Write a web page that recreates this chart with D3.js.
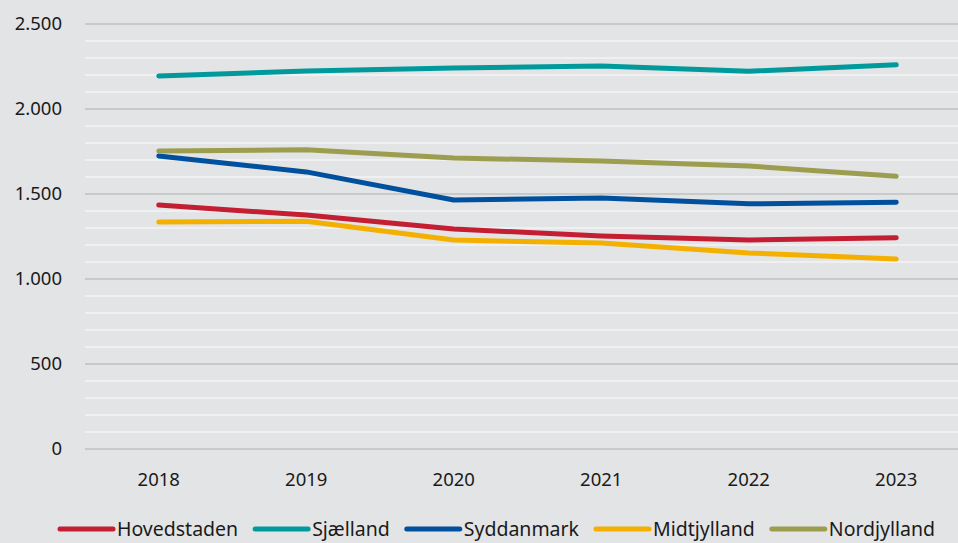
<!DOCTYPE html>
<html>
<head>
<meta charset="utf-8">
<script src="https://cdn.jsdelivr.net/npm/d3@7"></script>
<style>
  html, body { margin: 0; padding: 0; background: #e3e4e6; }
  svg { display: block; font-family: "Noto Sans", "Open Sans", sans-serif; }
</style>
</head>
<body>
<svg id="chart" width="958" height="543"></svg>
<script>
const years = ["2018", "2019", "2020", "2021", "2022", "2023"];
const hovedstaden = [1435, 1376, 1294, 1253, 1229, 1243];
const sjaelland = [2194, 2224, 2241, 2253, 2222, 2260];
const syddanmark = [1724, 1630, 1465, 1476, 1442, 1451];
const midtjylland = [1335, 1340, 1229, 1212, 1153, 1118];
const nordjylland = [1753, 1760, 1712, 1694, 1665, 1604];
const yTicks = [0, 500, 1000, 1500, 2000, 2500];

const series = [
  { name: "Hovedstaden", values: hovedstaden, color: "#c41e32" },
  { name: "Sjælland", values: sjaelland, color: "#009a9c" },
  { name: "Syddanmark", values: syddanmark, color: "#00509e" },
  { name: "Midtjylland", values: midtjylland, color: "#f4b000" },
  { name: "Nordjylland", values: nordjylland, color: "#9c9d4f" }
];

const margin = { top: 24, left: 85, bottom: 94 };
const width = 885;
const height = 543 - margin.top - margin.bottom;

const svg = d3.select("#chart");
const g = svg.append("g").attr("transform", `translate(${margin.left}, ${margin.top})`);

const x = d3.scaleBand().domain(years).range([0, width]);
const y = d3.scaleLinear().domain([0, 2500]).range([height, 0]);

// minor grid (white) then major grid (grey)
g.append("g")
  .selectAll("line")
  .data(d3.range(100, 2500, 100).filter(v => v % 500 !== 0))
  .join("line")
  .attr("x1", 0).attr("x2", width)
  .attr("y1", d => y(d)).attr("y2", d => y(d))
  .attr("stroke", "#f4f5f6")
  .attr("stroke-width", 1.5);

g.append("g")
  .selectAll("line")
  .data(yTicks)
  .join("line")
  .attr("x1", 0).attr("x2", width)
  .attr("y1", d => y(d)).attr("y2", d => y(d))
  .attr("stroke", "#bfc0c2")
  .attr("stroke-width", 1.5);

const fmt = v => d3.format(",")(v).replace(/,/g, ".");

const yAxis = g.append("g")
  .call(d3.axisLeft(y).tickValues(yTicks).tickFormat(fmt).tickSize(0).tickPadding(23));
yAxis.select(".domain").remove();
yAxis.selectAll("text").attr("font-size", 18.5).attr("fill", "#1a1a1a").attr("font-family", "Noto Sans");

const xAxis = g.append("g")
  .attr("transform", `translate(0, ${height})`)
  .call(d3.axisBottom(x).tickSize(0).tickPadding(24));
xAxis.select(".domain").remove();
xAxis.selectAll("text").attr("font-size", 18.5).attr("fill", "#1a1a1a").attr("font-family", "Noto Sans");

const line = d3.line()
  .x((d, i) => x(years[i]) + x.bandwidth() / 2)
  .y(d => y(d));

g.append("g")
  .selectAll("path")
  .data(series)
  .join("path")
  .attr("d", d => line(d.values))
  .attr("fill", "none")
  .attr("stroke", d => d.color)
  .attr("stroke-width", 5)
  .attr("stroke-linecap", "round")
  .attr("stroke-linejoin", "round");

// legend
const legend = svg.append("g").attr("transform", "translate(0, 529)");
let lx = 60;
series.forEach(s => {
  const item = legend.append("g");
  item.append("line")
    .attr("x1", lx).attr("x2", lx + 53)
    .attr("y1", 0).attr("y2", 0)
    .attr("stroke", s.color)
    .attr("stroke-width", 5)
    .attr("stroke-linecap", "round");
  const t = item.append("text")
    .attr("x", lx + 57)
    .attr("y", 7)
    .attr("font-size", 19.5)
    .attr("fill", "#1a1a1a")
    .text(s.name);
  lx += 57 + t.node().getComputedTextLength() + 17;
});
</script>
</body>
</html>
